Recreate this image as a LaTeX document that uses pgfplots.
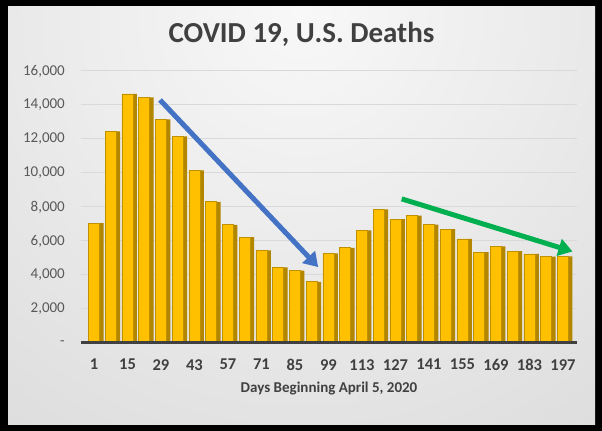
\documentclass[border=0pt]{standalone}
\usepackage{fontspec}
\setmainfont{Carlito}
\usepackage{pgfplots}
\usepackage{pgfplotstable}
\pgfplotsset{compat=1.18}
\usetikzlibrary{arrows.meta}
\definecolor{gold}{HTML}{FFC000}
\definecolor{golddark}{HTML}{BF9000}
\definecolor{goldside}{HTML}{B38600}
\definecolor{txt}{HTML}{404040}
\definecolor{txtl}{HTML}{595959}
\definecolor{gridc}{HTML}{D9D9D9}
\definecolor{arrblue}{HTML}{4472C4}
\definecolor{arrgreen}{HTML}{00B050}
\definecolor{bgin}{HTML}{F8F8F8}
\definecolor{bgout}{HTML}{C2C2C2}
\pgfdeclareradialshading{bgshade}{\pgfpoint{0bp}{0bp}}{color(0bp)=(bgin); color(50bp)=(bgout)}

\pgfplotstableread{
day deaths
1 7050
8 12450
15 14650
22 14450
29 13150
36 12150
43 10150
50 8300
57 6950
64 6230
71 5450
78 4450
85 4250
92 3600
99 5270
106 5600
113 6630
120 7860
127 7280
134 7490
141 6960
148 6700
155 6120
162 5350
169 5690
176 5410
183 5240
190 5080
197 5100
}\deaths

\begin{document}
\begin{tikzpicture}
\useasboundingbox (0bp,0bp) rectangle (602bp,431bp);
\fill[black] (0bp,0bp) rectangle (602bp,431bp);
\begin{scope}
\clip (8bp,6bp) rectangle (595bp,424bp);
\shade[shading=bgshade] (301bp,420bp) circle (520bp);
\end{scope}
\begin{axis}[
  at={(80.6bp,88bp)}, anchor=south west,
  scale only axis, width=496bp, height=272bp,
  xmin=-4.6, xmax=202.7, ymin=0, ymax=16000,
  clip=false,
  scaled y ticks=false, scaled x ticks=false,
  axis line style={draw=none},
  tick style={draw=none},
  major tick length=0pt,
  ymajorgrids, grid style={color=gridc, line width=1bp},
  ytick={0,2000,...,16000},
  yticklabels={{-},{2,000},{4,000},{6,000},{8,000},{10,000},{12,000},{14,000},{16,000}},
  xtick={1,15,...,197},
  xticklabels={1,15,29,43,57,71,85,99,113,127,141,155,169,183,197},
  yticklabel style={font=\fontsize{15bp}{18bp}\selectfont, text=txtl, anchor=east, inner sep=0pt},
  xticklabel style={font=\fontsize{16.5bp}{19bp}\selectfont\bfseries, text=txt, anchor=north, inner sep=0pt},
  yticklabel shift=15.6bp,
  xticklabel shift=16bp,
]
\addplot[ybar, bar width=4bp, bar shift=7.5bp, fill=goldside, draw=none] table[x=day, y=deaths] {\deaths};
\addplot[ybar, bar width=11bp, bar shift=0bp, fill=gold, draw=golddark, line width=0.8bp] table[x=day, y=deaths] {\deaths};
\draw[line width=3bp, color=txt] (axis cs:-4.6,0) -- (axis cs:202.7,0);
\draw[arrblue, line width=5bp, -{Triangle[length=14bp,width=17bp]}] (axis cs:28.6,14295) -- (axis cs:94.7,4465);
\draw[arrgreen, line width=5bp, -{Triangle[length=14bp,width=17bp]}] (axis cs:129.6,8478) -- (axis cs:201.0,5382);
\end{axis}
\node[anchor=base, font=\fontsize{29bp}{34bp}\selectfont\bfseries, text=txt] at (301.5bp,388.3bp) {COVID 19, U.S. Deaths};
\node[anchor=base, font=\fontsize{15bp}{18bp}\selectfont\bfseries, text=txt] at (329bp,38.3bp) {Days Beginning April 5, 2020};
\end{tikzpicture}
\end{document}
